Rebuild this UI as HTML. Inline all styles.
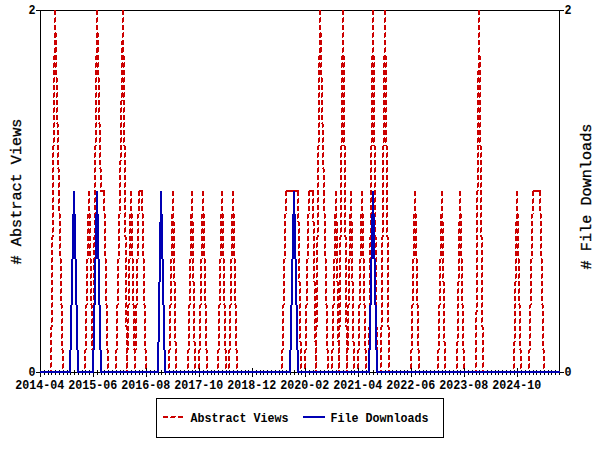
<!DOCTYPE html>
<html><head><meta charset="utf-8"><title>Abstract Views and File Downloads</title>
<style>
html,body{margin:0;padding:0;background:#fff;}
svg{display:block}
text{font-family:"Liberation Mono","DejaVu Sans Mono",monospace;fill:#000}
.s{font-size:12.5px;font-weight:bold}
.t{font-size:15.2px;stroke:#000;stroke-width:0.3}
</style></head><body>
<svg width="600" height="450" viewBox="0 0 600 450">
<rect x="0" y="0" width="600" height="450" fill="#fff"/>
<g shape-rendering="crispEdges" stroke="none">
<path fill="#000000" d="M374 10h10v1h-10zM480 10h84v1h-84zM56 10h40v1h-40zM98 10h24v1h-24zM124 10h195v1h-195zM386 10h92v1h-92zM344 10h28v1h-28zM321 10h21v1h-21zM36 10h18v1h-18zM559 11h1v360h-1zM40 11h1v360h-1zM146 368h1v3h-1zM252 368h1v3h-1zM358 368h1v3h-1zM464 368h1v3h-1zM199 368h1v3h-1zM305 368h1v3h-1zM517 368h1v3h-1zM411 368h1v3h-1zM430 370h1v1h-1zM540 370h1v1h-1zM173 370h1v1h-1zM366 370h1v1h-1zM426 370h1v1h-1zM491 370h1v1h-1zM275 370h1v1h-1zM59 370h1v1h-1zM169 370h1v1h-1zM55 370h1v1h-1zM404 370h1v1h-1zM514 370h1v1h-1zM551 370h1v1h-1zM400 370h1v1h-1zM184 370h1v1h-1zM396 370h1v1h-1zM180 370h1v1h-1zM423 370h1v1h-1zM282 370h1v1h-1zM548 370h1v1h-1zM525 370h1v1h-1zM309 370h1v1h-1zM89 370h1v1h-1zM521 370h1v1h-1zM154 370h1v1h-1zM214 370h1v1h-1zM457 370h1v1h-1zM453 370h1v1h-1zM495 370h1v1h-1zM279 370h1v1h-1zM63 370h1v1h-1zM555 370h1v1h-1zM123 370h1v1h-1zM188 370h1v1h-1zM468 370h1v1h-1zM533 370h1v1h-1zM248 370h1v1h-1zM529 370h1v1h-1zM313 370h1v1h-1zM460 370h1v1h-1zM286 370h1v1h-1zM442 370h1v1h-1zM226 370h1v1h-1zM336 370h1v1h-1zM195 370h1v1h-1zM438 370h1v1h-1zM222 370h1v1h-1zM498 370h1v1h-1zM324 370h1v1h-1zM218 370h1v1h-1zM434 370h1v1h-1zM67 370h1v1h-1zM44 370h1v1h-1zM320 370h1v1h-1zM104 370h1v1h-1zM407 370h1v1h-1zM472 370h1v1h-1zM449 370h1v1h-1zM343 370h1v1h-1zM192 370h1v1h-1zM445 370h1v1h-1zM229 370h1v1h-1zM354 370h1v1h-1zM203 370h1v1h-1zM479 370h1v1h-1zM263 370h1v1h-1zM506 370h1v1h-1zM48 370h1v1h-1zM139 370h1v1h-1zM502 370h1v1h-1zM351 370h1v1h-1zM135 370h1v1h-1zM328 370h1v1h-1zM237 370h1v1h-1zM131 370h1v1h-1zM108 370h1v1h-1zM233 370h1v1h-1zM260 370h1v1h-1zM536 370h1v1h-1zM362 370h1v1h-1zM256 370h1v1h-1zM211 370h1v1h-1zM82 370h1v1h-1zM142 370h1v1h-1zM207 370h1v1h-1zM385 370h1v1h-1zM510 370h1v1h-1zM271 370h1v1h-1zM487 370h1v1h-1zM120 370h1v1h-1zM267 370h1v1h-1zM332 370h1v1h-1zM116 370h1v1h-1zM176 370h1v1h-1zM419 370h1v1h-1zM112 370h1v1h-1zM245 370h1v1h-1zM415 370h1v1h-1zM392 370h1v1h-1zM241 370h1v1h-1zM301 370h1v1h-1zM85 370h1v1h-1zM150 370h1v1h-1zM544 370h1v1h-1zM161 370h1v2h-1zM97 370h1v2h-1zM373 370h1v2h-1zM74 370h1v2h-1zM294 370h1v2h-1zM291 372h6v1h-6zM36 372h4v1h-4zM94 372h6v1h-6zM159 372h5v1h-5zM71 372h6v1h-6zM560 372h4v1h-4zM370 372h6v1h-6zM430 373h1v2h-1zM540 373h1v2h-1zM389 373h1v2h-1zM173 373h1v2h-1zM366 373h1v2h-1zM426 373h1v2h-1zM491 373h1v2h-1zM275 373h1v2h-1zM59 373h1v2h-1zM169 373h1v2h-1zM55 373h1v2h-1zM404 373h1v2h-1zM298 373h1v2h-1zM514 373h1v2h-1zM551 373h1v2h-1zM400 373h1v2h-1zM184 373h1v2h-1zM396 373h1v2h-1zM180 373h1v2h-1zM423 373h1v2h-1zM282 373h1v2h-1zM548 373h1v2h-1zM525 373h1v2h-1zM309 373h1v2h-1zM158 373h1v2h-1zM521 373h1v2h-1zM89 373h1v2h-1zM154 373h1v2h-1zM214 373h1v2h-1zM457 373h1v2h-1zM559 373h1v2h-1zM453 373h1v2h-1zM495 373h1v2h-1zM279 373h1v2h-1zM63 373h1v2h-1zM555 373h1v2h-1zM339 373h1v2h-1zM123 373h1v2h-1zM316 373h1v2h-1zM188 373h1v2h-1zM165 373h1v2h-1zM468 373h1v2h-1zM161 373h1v2h-1zM533 373h1v2h-1zM248 373h1v2h-1zM529 373h1v2h-1zM313 373h1v2h-1zM97 373h1v2h-1zM460 373h1v2h-1zM286 373h1v2h-1zM70 373h1v2h-1zM442 373h1v2h-1zM226 373h1v2h-1zM336 373h1v2h-1zM195 373h1v2h-1zM373 373h1v2h-1zM438 373h1v2h-1zM222 373h1v2h-1zM498 373h1v2h-1zM369 373h1v2h-1zM324 373h1v2h-1zM218 373h1v2h-1zM434 373h1v2h-1zM67 373h1v2h-1zM44 373h1v2h-1zM320 373h1v2h-1zM104 373h1v2h-1zM347 373h1v2h-1zM407 373h1v2h-1zM472 373h1v2h-1zM449 373h1v2h-1zM343 373h1v2h-1zM127 373h1v2h-1zM192 373h1v2h-1zM445 373h1v2h-1zM229 373h1v2h-1zM78 373h1v2h-1zM381 373h1v2h-1zM74 373h1v2h-1zM101 373h1v2h-1zM377 373h1v2h-1zM354 373h1v2h-1zM203 373h1v2h-1zM479 373h1v2h-1zM263 373h1v2h-1zM506 373h1v2h-1zM290 373h1v2h-1zM48 373h1v2h-1zM139 373h1v2h-1zM502 373h1v2h-1zM351 373h1v2h-1zM135 373h1v2h-1zM328 373h1v2h-1zM237 373h1v2h-1zM131 373h1v2h-1zM108 373h1v2h-1zM233 373h1v2h-1zM476 373h1v2h-1zM260 373h1v2h-1zM536 373h1v2h-1zM362 373h1v2h-1zM256 373h1v2h-1zM211 373h1v2h-1zM82 373h1v2h-1zM142 373h1v2h-1zM207 373h1v2h-1zM385 373h1v2h-1zM510 373h1v2h-1zM294 373h1v2h-1zM487 373h1v2h-1zM271 373h1v2h-1zM120 373h1v2h-1zM483 373h1v2h-1zM267 373h1v2h-1zM51 373h1v2h-1zM332 373h1v2h-1zM116 373h1v2h-1zM176 373h1v2h-1zM419 373h1v2h-1zM112 373h1v2h-1zM245 373h1v2h-1zM415 373h1v2h-1zM392 373h1v2h-1zM241 373h1v2h-1zM301 373h1v2h-1zM85 373h1v2h-1zM150 373h1v2h-1zM544 373h1v2h-1zM305 373h1v4h-1zM40 373h1v4h-1zM464 373h1v4h-1zM93 373h1v4h-1zM252 373h1v4h-1zM199 373h1v4h-1zM411 373h1v4h-1zM146 373h1v4h-1zM358 373h1v4h-1zM517 373h1v4h-1zM156 398h288v1h-288zM443 399h1v38h-1zM156 399h1v38h-1zM156 437h288v1h-288z"/>
<path fill="#cc0000" d="M319 10h2v5h-2zM54 10h2v5h-2zM122 10h2v5h-2zM372 10h2v5h-2zM96 10h2v5h-2zM478 10h2v5h-2zM384 10h2v5h-2zM342 10h2v5h-2zM55 17h1v1h-1zM123 17h1v1h-1zM97 17h1v1h-1zM343 17h1v1h-1zM479 17h1v1h-1zM385 17h1v1h-1zM373 17h1v1h-1zM320 17h1v1h-1zM319 18h2v4h-2zM54 18h2v4h-2zM122 18h2v4h-2zM372 18h2v4h-2zM96 18h2v4h-2zM478 18h2v4h-2zM384 18h2v4h-2zM342 18h2v4h-2zM342 22h1v1h-1zM319 22h1v1h-1zM478 22h1v1h-1zM372 22h1v1h-1zM54 22h1v1h-1zM122 22h1v1h-1zM96 22h1v1h-1zM384 22h1v1h-1zM319 25h2v5h-2zM54 25h2v5h-2zM122 25h2v5h-2zM372 25h2v5h-2zM96 25h2v5h-2zM478 25h2v5h-2zM384 25h2v5h-2zM342 25h2v5h-2zM55 32h1v1h-1zM123 32h1v1h-1zM97 32h1v1h-1zM343 32h1v1h-1zM479 32h1v1h-1zM385 32h1v1h-1zM373 32h1v1h-1zM320 32h1v1h-1zM96 33h3v4h-3zM122 33h2v4h-2zM342 33h2v4h-2zM372 33h2v4h-2zM478 33h2v4h-2zM319 33h3v4h-3zM384 33h2v4h-2zM54 33h3v4h-3zM319 37h2v1h-2zM54 37h2v1h-2zM342 37h1v1h-1zM96 37h2v1h-2zM478 37h1v1h-1zM372 37h1v1h-1zM122 37h1v1h-1zM384 37h1v1h-1zM122 40h2v1h-2zM96 40h3v5h-3zM342 40h2v5h-2zM372 40h2v5h-2zM478 40h2v5h-2zM319 40h3v5h-3zM384 40h2v5h-2zM54 40h3v5h-3zM121 41h3v4h-3zM55 47h2v1h-2zM122 47h2v1h-2zM97 47h2v1h-2zM343 47h1v1h-1zM479 47h1v1h-1zM320 47h2v1h-2zM385 47h1v1h-1zM373 47h1v1h-1zM121 48h3v4h-3zM96 48h3v4h-3zM342 48h2v4h-2zM372 48h2v4h-2zM478 48h2v4h-2zM319 48h3v4h-3zM384 48h2v4h-2zM54 48h3v4h-3zM319 52h2v1h-2zM54 52h2v1h-2zM342 52h1v1h-1zM96 52h2v1h-2zM478 52h1v1h-1zM121 52h2v1h-2zM372 52h1v1h-1zM384 52h1v1h-1zM121 55h3v1h-3zM96 55h3v1h-3zM342 55h2v1h-2zM372 55h2v1h-2zM478 55h2v1h-2zM319 55h3v1h-3zM384 55h2v1h-2zM54 55h3v1h-3zM371 56h4v4h-4zM95 56h4v4h-4zM478 56h3v4h-3zM383 56h4v4h-4zM53 56h4v4h-4zM341 56h4v4h-4zM318 56h4v4h-4zM121 56h4v4h-4zM56 62h1v1h-1zM124 62h1v1h-1zM342 62h1v1h-1zM479 62h2v1h-2zM319 62h1v1h-1zM374 62h1v1h-1zM98 62h1v1h-1zM386 62h1v1h-1zM372 62h1v1h-1zM54 62h1v1h-1zM122 62h1v1h-1zM344 62h1v1h-1zM321 62h1v1h-1zM96 62h1v1h-1zM384 62h1v1h-1zM371 63h4v4h-4zM95 63h4v4h-4zM478 63h3v4h-3zM383 63h4v4h-4zM53 63h4v4h-4zM341 63h4v4h-4zM318 63h4v4h-4zM121 63h4v4h-4zM53 67h1v1h-1zM55 67h1v1h-1zM123 67h1v1h-1zM383 67h1v1h-1zM318 67h1v1h-1zM97 67h1v1h-1zM341 67h1v1h-1zM478 67h2v1h-2zM343 67h1v1h-1zM121 67h1v1h-1zM385 67h1v1h-1zM373 67h1v1h-1zM371 67h1v1h-1zM320 67h1v1h-1zM95 67h1v1h-1zM478 70h3v1h-3zM371 70h4v5h-4zM95 70h4v5h-4zM383 70h4v5h-4zM53 70h4v5h-4zM341 70h4v5h-4zM318 70h4v5h-4zM121 70h4v5h-4zM477 71h4v4h-4zM480 77h1v1h-1zM56 77h1v1h-1zM124 77h1v1h-1zM342 77h1v1h-1zM319 77h1v1h-1zM374 77h1v1h-1zM98 77h1v1h-1zM386 77h1v1h-1zM478 77h1v1h-1zM372 77h1v1h-1zM54 77h1v1h-1zM122 77h1v1h-1zM344 77h1v1h-1zM321 77h1v1h-1zM96 77h1v1h-1zM384 77h1v1h-1zM53 78h2v4h-2zM371 78h4v4h-4zM95 78h2v4h-2zM383 78h4v4h-4zM318 78h2v4h-2zM341 78h4v4h-4zM477 78h4v4h-4zM321 78h2v4h-2zM56 78h2v4h-2zM121 78h4v4h-4zM98 78h2v4h-2zM56 82h1v1h-1zM53 82h1v1h-1zM123 82h1v1h-1zM383 82h1v1h-1zM98 82h1v1h-1zM385 82h1v1h-1zM477 82h1v1h-1zM318 82h1v1h-1zM341 82h1v1h-1zM343 82h1v1h-1zM479 82h1v1h-1zM121 82h1v1h-1zM321 82h1v1h-1zM373 82h1v1h-1zM371 82h1v1h-1zM95 82h1v1h-1zM53 85h2v5h-2zM371 85h4v5h-4zM95 85h2v5h-2zM383 85h4v5h-4zM318 85h2v5h-2zM341 85h4v5h-4zM477 85h4v5h-4zM321 85h2v5h-2zM56 85h2v5h-2zM121 85h4v5h-4zM98 85h2v5h-2zM480 92h1v1h-1zM124 92h1v1h-1zM342 92h1v1h-1zM322 92h1v1h-1zM319 92h1v1h-1zM374 92h1v1h-1zM386 92h1v1h-1zM478 92h1v1h-1zM372 92h1v1h-1zM54 92h1v1h-1zM122 92h1v1h-1zM344 92h1v1h-1zM57 92h1v1h-1zM96 92h1v1h-1zM99 92h1v1h-1zM384 92h1v1h-1zM53 93h2v4h-2zM371 93h4v4h-4zM95 93h2v4h-2zM383 93h4v4h-4zM318 93h2v4h-2zM341 93h4v4h-4zM477 93h4v4h-4zM321 93h2v4h-2zM56 93h2v4h-2zM121 93h4v4h-4zM98 93h2v4h-2zM56 97h1v1h-1zM53 97h1v1h-1zM123 97h1v1h-1zM383 97h1v1h-1zM98 97h1v1h-1zM385 97h1v1h-1zM477 97h1v1h-1zM318 97h1v1h-1zM341 97h1v1h-1zM343 97h1v1h-1zM479 97h1v1h-1zM121 97h1v1h-1zM321 97h1v1h-1zM373 97h1v1h-1zM371 97h1v1h-1zM95 97h1v1h-1zM121 100h4v1h-4zM53 100h2v5h-2zM371 100h4v5h-4zM95 100h2v5h-2zM383 100h4v5h-4zM318 100h2v5h-2zM341 100h4v5h-4zM477 100h4v5h-4zM321 100h2v5h-2zM56 100h2v5h-2zM98 100h2v5h-2zM123 101h2v4h-2zM120 101h2v4h-2zM480 107h1v1h-1zM124 107h1v1h-1zM342 107h1v1h-1zM322 107h1v1h-1zM319 107h1v1h-1zM374 107h1v1h-1zM121 107h1v1h-1zM386 107h1v1h-1zM478 107h1v1h-1zM372 107h1v1h-1zM54 107h1v1h-1zM344 107h1v1h-1zM57 107h1v1h-1zM96 107h1v1h-1zM99 107h1v1h-1zM384 107h1v1h-1zM53 108h2v4h-2zM371 108h4v4h-4zM123 108h2v4h-2zM95 108h2v4h-2zM383 108h4v4h-4zM318 108h2v4h-2zM341 108h4v4h-4zM477 108h4v4h-4zM321 108h2v4h-2zM56 108h2v4h-2zM120 108h2v4h-2zM98 108h2v4h-2zM56 112h1v1h-1zM120 112h1v1h-1zM53 112h1v1h-1zM123 112h1v1h-1zM383 112h1v1h-1zM98 112h1v1h-1zM385 112h1v1h-1zM477 112h1v1h-1zM318 112h1v1h-1zM341 112h1v1h-1zM343 112h1v1h-1zM479 112h1v1h-1zM321 112h1v1h-1zM373 112h1v1h-1zM371 112h1v1h-1zM95 112h1v1h-1zM53 115h2v5h-2zM371 115h4v5h-4zM123 115h2v5h-2zM95 115h2v5h-2zM383 115h4v5h-4zM318 115h2v5h-2zM341 115h4v5h-4zM477 115h4v5h-4zM321 115h2v5h-2zM56 115h2v5h-2zM120 115h2v5h-2zM98 115h2v5h-2zM480 122h1v1h-1zM124 122h1v1h-1zM342 122h1v1h-1zM322 122h1v1h-1zM319 122h1v1h-1zM374 122h1v1h-1zM121 122h1v1h-1zM386 122h1v1h-1zM478 122h1v1h-1zM372 122h1v1h-1zM54 122h1v1h-1zM344 122h1v1h-1zM57 122h1v1h-1zM96 122h1v1h-1zM99 122h1v1h-1zM384 122h1v1h-1zM321 123h2v1h-2zM56 123h2v1h-2zM98 123h2v1h-2zM53 123h2v4h-2zM371 123h4v4h-4zM123 123h2v4h-2zM95 123h2v4h-2zM383 123h4v4h-4zM318 123h2v4h-2zM341 123h4v4h-4zM477 123h4v4h-4zM120 123h2v4h-2zM99 124h2v3h-2zM57 124h2v3h-2zM322 124h2v3h-2zM120 127h1v1h-1zM53 127h1v1h-1zM322 127h1v1h-1zM123 127h1v1h-1zM383 127h1v1h-1zM477 127h1v1h-1zM318 127h1v1h-1zM373 127h1v1h-1zM341 127h1v1h-1zM343 127h1v1h-1zM479 127h1v1h-1zM57 127h1v1h-1zM385 127h1v1h-1zM99 127h1v1h-1zM371 127h1v1h-1zM95 127h1v1h-1zM53 130h2v5h-2zM371 130h4v5h-4zM123 130h2v5h-2zM95 130h2v5h-2zM383 130h4v5h-4zM318 130h2v5h-2zM99 130h2v5h-2zM341 130h4v5h-4zM477 130h4v5h-4zM57 130h2v5h-2zM120 130h2v5h-2zM322 130h2v5h-2zM480 137h1v1h-1zM124 137h1v1h-1zM342 137h1v1h-1zM319 137h1v1h-1zM323 137h1v1h-1zM374 137h1v1h-1zM100 137h1v1h-1zM386 137h1v1h-1zM478 137h1v1h-1zM372 137h1v1h-1zM54 137h1v1h-1zM58 137h1v1h-1zM344 137h1v1h-1zM121 137h1v1h-1zM96 137h1v1h-1zM384 137h1v1h-1zM53 138h2v4h-2zM371 138h4v4h-4zM123 138h2v4h-2zM95 138h2v4h-2zM383 138h4v4h-4zM318 138h2v4h-2zM99 138h2v4h-2zM341 138h4v4h-4zM477 138h4v4h-4zM57 138h2v4h-2zM120 138h2v4h-2zM322 138h2v4h-2zM120 142h1v1h-1zM53 142h1v1h-1zM322 142h1v1h-1zM123 142h1v1h-1zM383 142h1v1h-1zM477 142h1v1h-1zM318 142h1v1h-1zM373 142h1v1h-1zM341 142h1v1h-1zM343 142h1v1h-1zM479 142h1v1h-1zM57 142h1v1h-1zM385 142h1v1h-1zM99 142h1v1h-1zM371 142h1v1h-1zM95 142h1v1h-1zM53 145h2v1h-2zM371 145h4v1h-4zM123 145h2v1h-2zM95 145h2v1h-2zM383 145h4v1h-4zM318 145h2v1h-2zM341 145h4v1h-4zM477 145h4v1h-4zM99 145h2v5h-2zM57 145h2v5h-2zM120 145h2v5h-2zM322 145h2v5h-2zM52 146h2v4h-2zM477 146h2v4h-2zM386 146h2v4h-2zM370 146h2v4h-2zM317 146h2v4h-2zM344 146h2v4h-2zM480 146h2v4h-2zM382 146h2v4h-2zM124 146h2v4h-2zM340 146h2v4h-2zM374 146h2v4h-2zM94 146h2v4h-2zM345 152h1v1h-1zM53 152h1v1h-1zM383 152h1v1h-1zM323 152h1v1h-1zM387 152h1v1h-1zM100 152h1v1h-1zM318 152h1v1h-1zM478 152h1v1h-1zM341 152h1v1h-1zM125 152h1v1h-1zM58 152h1v1h-1zM481 152h1v1h-1zM121 152h1v1h-1zM371 152h1v1h-1zM375 152h1v1h-1zM95 152h1v1h-1zM52 153h2v4h-2zM477 153h2v4h-2zM386 153h2v4h-2zM370 153h2v4h-2zM99 153h2v4h-2zM317 153h2v4h-2zM344 153h2v4h-2zM57 153h2v4h-2zM480 153h2v4h-2zM382 153h2v4h-2zM120 153h2v4h-2zM124 153h2v4h-2zM322 153h2v4h-2zM340 153h2v4h-2zM374 153h2v4h-2zM94 153h2v4h-2zM480 157h1v1h-1zM382 157h1v1h-1zM317 157h1v1h-1zM120 157h1v1h-1zM124 157h1v1h-1zM340 157h1v1h-1zM322 157h1v1h-1zM374 157h1v1h-1zM94 157h1v1h-1zM477 157h1v1h-1zM386 157h1v1h-1zM370 157h1v1h-1zM52 157h1v1h-1zM344 157h1v1h-1zM57 157h1v1h-1zM99 157h1v1h-1zM120 160h2v1h-2zM52 160h2v5h-2zM477 160h2v5h-2zM386 160h2v5h-2zM370 160h2v5h-2zM99 160h2v5h-2zM317 160h2v5h-2zM344 160h2v5h-2zM57 160h2v5h-2zM480 160h2v5h-2zM382 160h2v5h-2zM124 160h2v5h-2zM322 160h2v5h-2zM340 160h2v5h-2zM374 160h2v5h-2zM94 160h2v5h-2zM119 161h2v4h-2zM345 167h1v1h-1zM120 167h1v1h-1zM53 167h1v1h-1zM383 167h1v1h-1zM323 167h1v1h-1zM387 167h1v1h-1zM100 167h1v1h-1zM318 167h1v1h-1zM478 167h1v1h-1zM341 167h1v1h-1zM125 167h1v1h-1zM58 167h1v1h-1zM481 167h1v1h-1zM371 167h1v1h-1zM375 167h1v1h-1zM95 167h1v1h-1zM99 168h2v1h-2zM57 168h2v1h-2zM322 168h2v1h-2zM52 168h2v4h-2zM477 168h2v4h-2zM386 168h2v4h-2zM370 168h2v4h-2zM317 168h2v4h-2zM344 168h2v4h-2zM119 168h2v4h-2zM480 168h2v4h-2zM382 168h2v4h-2zM340 168h2v4h-2zM124 168h2v4h-2zM374 168h2v4h-2zM94 168h2v4h-2zM323 169h2v3h-2zM100 169h2v3h-2zM58 169h2v3h-2zM480 172h1v1h-1zM340 172h1v1h-1zM124 172h1v1h-1zM374 172h1v1h-1zM94 172h1v1h-1zM323 172h1v1h-1zM477 172h1v1h-1zM100 172h1v1h-1zM386 172h1v1h-1zM370 172h1v1h-1zM52 172h1v1h-1zM58 172h1v1h-1zM344 172h1v1h-1zM119 172h1v1h-1zM317 172h1v1h-1zM382 172h1v1h-1zM323 175h2v5h-2zM52 175h2v5h-2zM477 175h2v5h-2zM100 175h2v5h-2zM386 175h2v5h-2zM370 175h2v5h-2zM317 175h2v5h-2zM58 175h2v5h-2zM344 175h2v5h-2zM119 175h2v5h-2zM480 175h2v5h-2zM382 175h2v5h-2zM340 175h2v5h-2zM124 175h2v5h-2zM374 175h2v5h-2zM94 175h2v5h-2zM59 182h1v1h-1zM345 182h1v1h-1zM120 182h1v1h-1zM53 182h1v1h-1zM383 182h1v1h-1zM387 182h1v1h-1zM318 182h1v1h-1zM478 182h1v1h-1zM341 182h1v1h-1zM125 182h1v1h-1zM481 182h1v1h-1zM324 182h1v1h-1zM101 182h1v1h-1zM371 182h1v1h-1zM375 182h1v1h-1zM95 182h1v1h-1zM323 183h2v4h-2zM52 183h2v4h-2zM477 183h2v4h-2zM100 183h2v4h-2zM386 183h2v4h-2zM370 183h2v4h-2zM317 183h2v4h-2zM58 183h2v4h-2zM344 183h2v4h-2zM119 183h2v4h-2zM480 183h2v4h-2zM382 183h2v4h-2zM340 183h2v4h-2zM124 183h2v4h-2zM374 183h2v4h-2zM94 183h2v4h-2zM480 187h1v1h-1zM340 187h1v1h-1zM124 187h1v1h-1zM374 187h1v1h-1zM94 187h1v1h-1zM323 187h1v1h-1zM477 187h1v1h-1zM100 187h1v1h-1zM386 187h1v1h-1zM370 187h1v1h-1zM52 187h1v1h-1zM58 187h1v1h-1zM344 187h1v1h-1zM119 187h1v1h-1zM317 187h1v1h-1zM382 187h1v1h-1zM533 190h8v1h-8zM309 190h5v1h-5zM139 190h4v1h-4zM286 190h13v1h-13zM477 190h2v1h-2zM100 190h5v2h-5zM138 191h5v1h-5zM295 191h4v1h-4zM532 191h9v1h-9zM308 191h6v1h-6zM285 191h8v1h-8zM386 190h2v5h-2zM317 190h2v5h-2zM382 190h2v5h-2zM52 190h2v5h-2zM374 190h2v5h-2zM94 190h2v5h-2zM370 190h2v5h-2zM480 190h2v5h-2zM344 190h2v5h-2zM340 190h2v5h-2zM124 190h2v5h-2zM476 191h2v4h-2zM323 190h2v6h-2zM58 190h2v6h-2zM119 190h2v6h-2zM441 191h2v5h-2zM459 191h2v5h-2zM221 191h2v5h-2zM88 191h2v5h-2zM350 191h2v5h-2zM414 191h2v5h-2zM130 191h2v5h-2zM516 191h2v5h-2zM361 191h2v5h-2zM232 191h2v5h-2zM172 191h2v5h-2zM191 191h2v5h-2zM335 191h2v5h-2zM202 191h2v5h-2zM312 192h2v4h-2zM308 192h2v4h-2zM138 192h2v4h-2zM103 192h2v4h-2zM539 192h2v4h-2zM141 192h2v4h-2zM297 192h2v4h-2zM532 192h2v4h-2zM285 192h2v4h-2zM477 197h1v1h-1zM481 197h1v1h-1zM371 197h1v1h-1zM345 197h1v1h-1zM387 197h1v1h-1zM318 197h1v1h-1zM341 197h1v1h-1zM125 197h1v1h-1zM53 197h1v1h-1zM383 197h1v1h-1zM375 197h1v1h-1zM95 197h1v1h-1zM233 198h1v1h-1zM104 198h1v1h-1zM192 198h1v1h-1zM298 198h1v1h-1zM362 198h1v1h-1zM59 198h1v1h-1zM142 198h1v1h-1zM533 198h1v1h-1zM324 198h1v1h-1zM336 198h1v1h-1zM120 198h1v1h-1zM203 198h1v1h-1zM313 198h1v1h-1zM460 198h1v1h-1zM89 198h1v1h-1zM139 198h1v1h-1zM309 198h1v1h-1zM286 198h1v1h-1zM415 198h1v1h-1zM442 198h1v1h-1zM131 198h1v1h-1zM222 198h1v1h-1zM351 198h1v1h-1zM540 198h1v1h-1zM517 198h1v1h-1zM173 198h1v1h-1zM386 198h2v4h-2zM317 198h2v4h-2zM382 198h2v4h-2zM52 198h2v4h-2zM94 198h2v4h-2zM374 198h2v4h-2zM370 198h2v4h-2zM480 198h2v4h-2zM476 198h2v4h-2zM344 198h2v4h-2zM340 198h2v4h-2zM124 198h2v4h-2zM312 199h2v4h-2zM441 199h2v4h-2zM459 199h2v4h-2zM308 199h2v4h-2zM138 199h2v4h-2zM221 199h2v4h-2zM88 199h2v4h-2zM323 199h2v4h-2zM350 199h2v4h-2zM414 199h2v4h-2zM103 199h2v4h-2zM130 199h2v4h-2zM539 199h2v4h-2zM516 199h2v4h-2zM361 199h2v4h-2zM232 199h2v4h-2zM172 199h2v4h-2zM58 199h2v4h-2zM141 199h2v4h-2zM191 199h2v4h-2zM297 199h2v4h-2zM335 199h2v4h-2zM119 199h2v4h-2zM202 199h2v4h-2zM532 199h2v4h-2zM285 199h2v4h-2zM480 202h1v1h-1zM476 202h1v1h-1zM344 202h1v1h-1zM340 202h1v1h-1zM124 202h1v1h-1zM386 202h1v1h-1zM317 202h1v1h-1zM382 202h1v1h-1zM52 202h1v1h-1zM374 202h1v1h-1zM94 202h1v1h-1zM370 202h1v1h-1zM191 203h1v1h-1zM297 203h1v1h-1zM335 203h1v1h-1zM119 203h1v1h-1zM532 203h1v1h-1zM202 203h1v1h-1zM285 203h1v1h-1zM312 203h1v1h-1zM441 203h1v1h-1zM459 203h1v1h-1zM138 203h1v1h-1zM308 203h1v1h-1zM221 203h1v1h-1zM88 203h1v1h-1zM323 203h1v1h-1zM350 203h1v1h-1zM414 203h1v1h-1zM103 203h1v1h-1zM539 203h1v1h-1zM516 203h1v1h-1zM130 203h1v1h-1zM232 203h1v1h-1zM361 203h1v1h-1zM58 203h1v1h-1zM172 203h1v1h-1zM141 203h1v1h-1zM386 205h2v5h-2zM317 205h2v5h-2zM382 205h2v5h-2zM52 205h2v5h-2zM374 205h2v5h-2zM94 205h2v5h-2zM370 205h2v5h-2zM480 205h2v5h-2zM476 205h2v5h-2zM344 205h2v5h-2zM340 205h2v5h-2zM124 205h2v5h-2zM312 206h2v5h-2zM441 206h2v5h-2zM459 206h2v5h-2zM308 206h2v5h-2zM138 206h2v5h-2zM221 206h2v5h-2zM88 206h2v5h-2zM323 206h2v5h-2zM350 206h2v5h-2zM414 206h2v5h-2zM103 206h2v5h-2zM130 206h2v5h-2zM539 206h2v5h-2zM516 206h2v5h-2zM361 206h2v5h-2zM232 206h2v5h-2zM172 206h2v5h-2zM58 206h2v5h-2zM141 206h2v5h-2zM191 206h2v5h-2zM297 206h2v5h-2zM335 206h2v5h-2zM119 206h2v5h-2zM202 206h2v5h-2zM532 206h2v5h-2zM285 206h2v5h-2zM477 212h1v1h-1zM481 212h1v1h-1zM371 212h1v1h-1zM345 212h1v1h-1zM387 212h1v1h-1zM318 212h1v1h-1zM341 212h1v1h-1zM125 212h1v1h-1zM53 212h1v1h-1zM383 212h1v1h-1zM375 212h1v1h-1zM95 212h1v1h-1zM233 213h1v1h-1zM104 213h1v1h-1zM192 213h1v1h-1zM298 213h1v1h-1zM362 213h1v1h-1zM59 213h1v1h-1zM142 213h1v1h-1zM533 213h1v1h-1zM324 213h1v1h-1zM94 213h2v1h-2zM374 213h2v1h-2zM336 213h1v1h-1zM120 213h1v1h-1zM203 213h1v1h-1zM313 213h1v1h-1zM370 213h2v1h-2zM460 213h1v1h-1zM89 213h1v1h-1zM139 213h1v1h-1zM309 213h1v1h-1zM286 213h1v1h-1zM415 213h1v1h-1zM442 213h1v1h-1zM131 213h1v1h-1zM222 213h1v1h-1zM351 213h1v1h-1zM540 213h1v1h-1zM517 213h1v1h-1zM173 213h1v1h-1zM386 213h2v4h-2zM317 213h2v4h-2zM382 213h2v4h-2zM52 213h2v4h-2zM480 213h2v4h-2zM476 213h2v4h-2zM344 213h2v4h-2zM340 213h2v4h-2zM124 213h2v4h-2zM375 214h1v3h-1zM190 214h3v4h-3zM312 214h2v4h-2zM516 214h3v4h-3zM201 214h4v4h-4zM220 214h4v4h-4zM413 214h4v4h-4zM87 214h4v4h-4zM129 214h4v4h-4zM334 214h3v4h-3zM231 214h4v4h-4zM440 214h3v4h-3zM540 214h2v4h-2zM324 214h2v4h-2zM349 214h3v4h-3zM118 214h2v4h-2zM104 214h2v4h-2zM531 214h2v4h-2zM297 214h2v4h-2zM459 214h3v4h-3zM94 214h1v4h-1zM360 214h4v4h-4zM137 214h2v4h-2zM370 214h1v4h-1zM59 214h2v4h-2zM171 214h3v4h-3zM307 214h2v4h-2zM284 214h2v4h-2zM142 214h2v4h-2zM480 217h1v1h-1zM476 217h1v1h-1zM344 217h1v1h-1zM340 217h1v1h-1zM124 217h1v1h-1zM386 217h1v1h-1zM317 217h1v1h-1zM382 217h1v1h-1zM52 217h1v1h-1zM233 218h1v1h-1zM297 218h1v1h-1zM104 218h1v1h-1zM459 218h2v1h-2zM531 218h1v1h-1zM201 218h1v1h-1zM137 218h1v1h-1zM307 218h1v1h-1zM362 218h1v1h-1zM220 218h1v1h-1zM59 218h1v1h-1zM284 218h1v1h-1zM171 218h2v1h-2zM142 218h1v1h-1zM413 218h1v1h-1zM190 218h2v1h-2zM312 218h1v1h-1zM87 218h1v1h-1zM129 218h1v1h-1zM516 218h2v1h-2zM231 218h1v1h-1zM203 218h1v1h-1zM89 218h1v1h-1zM415 218h1v1h-1zM131 218h1v1h-1zM222 218h1v1h-1zM334 218h2v1h-2zM440 218h2v1h-2zM360 218h1v1h-1zM540 218h1v1h-1zM324 218h1v1h-1zM118 218h1v1h-1zM349 218h2v1h-2zM190 221h3v1h-3zM312 221h2v1h-2zM516 221h3v1h-3zM334 221h3v1h-3zM440 221h3v1h-3zM349 221h3v1h-3zM297 221h2v1h-2zM459 221h3v1h-3zM171 221h3v1h-3zM386 220h2v5h-2zM317 220h2v5h-2zM382 220h2v5h-2zM52 220h2v5h-2zM480 220h2v5h-2zM476 220h2v5h-2zM94 220h1v5h-1zM344 220h2v5h-2zM370 220h1v5h-1zM340 220h2v5h-2zM124 220h2v5h-2zM375 220h1v5h-1zM201 221h4v5h-4zM220 221h4v5h-4zM413 221h4v5h-4zM87 221h4v5h-4zM129 221h4v5h-4zM231 221h4v5h-4zM540 221h2v5h-2zM324 221h2v5h-2zM118 221h2v5h-2zM104 221h2v5h-2zM531 221h2v5h-2zM360 221h4v5h-4zM137 221h2v5h-2zM59 221h2v5h-2zM307 221h2v5h-2zM284 221h2v5h-2zM142 221h2v5h-2zM458 222h4v4h-4zM334 222h4v4h-4zM440 222h4v4h-4zM313 222h2v4h-2zM349 222h4v4h-4zM515 222h4v4h-4zM171 222h4v4h-4zM190 222h4v4h-4zM298 222h2v4h-2zM345 227h1v1h-1zM53 227h1v1h-1zM383 227h1v1h-1zM387 227h1v1h-1zM318 227h1v1h-1zM477 227h1v1h-1zM125 227h1v1h-1zM341 227h1v1h-1zM481 227h1v1h-1zM352 228h1v1h-1zM191 228h1v1h-1zM416 228h1v1h-1zM325 228h1v1h-1zM541 228h1v1h-1zM132 228h1v1h-1zM335 228h1v1h-1zM174 228h1v1h-1zM119 228h1v1h-1zM105 228h1v1h-1zM532 228h1v1h-1zM518 228h1v1h-1zM202 228h1v1h-1zM60 228h1v1h-1zM285 228h1v1h-1zM441 228h1v1h-1zM143 228h1v1h-1zM234 228h1v1h-1zM459 228h1v1h-1zM299 228h1v1h-1zM138 228h1v1h-1zM193 228h1v1h-1zM363 228h1v1h-1zM308 228h1v1h-1zM221 228h1v1h-1zM88 228h1v1h-1zM350 228h1v1h-1zM414 228h1v1h-1zM337 228h1v1h-1zM314 228h1v1h-1zM461 228h1v1h-1zM516 228h1v1h-1zM130 228h1v1h-1zM204 228h1v1h-1zM223 228h1v1h-1zM232 228h1v1h-1zM361 228h1v1h-1zM90 228h1v1h-1zM443 228h1v1h-1zM172 228h1v1h-1zM375 227h1v5h-1zM386 228h2v4h-2zM317 228h2v4h-2zM382 228h2v4h-2zM52 228h2v4h-2zM480 228h2v4h-2zM476 228h2v4h-2zM344 228h2v4h-2zM340 228h2v4h-2zM124 228h2v4h-2zM94 228h1v5h-1zM370 228h1v5h-1zM458 229h4v4h-4zM334 229h4v4h-4zM440 229h4v4h-4zM313 229h2v4h-2zM201 229h4v4h-4zM220 229h4v4h-4zM349 229h4v4h-4zM413 229h4v4h-4zM87 229h4v4h-4zM129 229h4v4h-4zM515 229h4v4h-4zM231 229h4v4h-4zM540 229h2v4h-2zM324 229h2v4h-2zM171 229h4v4h-4zM190 229h4v4h-4zM118 229h2v4h-2zM104 229h2v4h-2zM531 229h2v4h-2zM360 229h4v4h-4zM298 229h2v4h-2zM137 229h2v4h-2zM59 229h2v4h-2zM307 229h2v4h-2zM284 229h2v4h-2zM142 229h2v4h-2zM480 232h1v1h-1zM476 232h1v1h-1zM344 232h1v1h-1zM340 232h1v1h-1zM124 232h1v1h-1zM386 232h1v1h-1zM317 232h1v1h-1zM382 232h1v1h-1zM52 232h1v1h-1zM233 233h1v1h-1zM104 233h1v1h-1zM458 233h1v1h-1zM531 233h1v1h-1zM440 233h1v1h-1zM334 233h1v1h-1zM192 233h1v1h-1zM201 233h1v1h-1zM137 233h1v1h-1zM298 233h1v1h-1zM307 233h1v1h-1zM362 233h1v1h-1zM220 233h1v1h-1zM59 233h1v1h-1zM284 233h1v1h-1zM349 233h1v1h-1zM142 233h1v1h-1zM413 233h1v1h-1zM87 233h1v1h-1zM515 233h1v1h-1zM129 233h1v1h-1zM231 233h1v1h-1zM336 233h1v1h-1zM203 233h1v1h-1zM313 233h1v1h-1zM460 233h1v1h-1zM89 233h1v1h-1zM171 233h1v1h-1zM415 233h1v1h-1zM190 233h1v1h-1zM442 233h1v1h-1zM131 233h1v1h-1zM222 233h1v1h-1zM351 233h1v1h-1zM360 233h1v1h-1zM118 233h1v1h-1zM540 233h1v1h-1zM324 233h1v1h-1zM517 233h1v1h-1zM173 233h1v1h-1zM386 235h2v2h-2zM317 235h2v2h-2zM382 235h2v2h-2zM52 235h2v2h-2zM480 235h2v2h-2zM94 235h1v2h-1zM344 235h2v2h-2zM370 235h1v2h-1zM340 235h2v2h-2zM124 235h2v2h-2zM375 235h1v2h-1zM476 235h2v5h-2zM51 237h2v3h-2zM93 237h2v3h-2zM345 237h2v3h-2zM387 237h2v3h-2zM125 237h2v3h-2zM369 237h2v3h-2zM375 237h2v3h-2zM316 237h2v3h-2zM481 237h2v3h-2zM339 237h2v3h-2zM381 237h2v3h-2zM458 236h4v5h-4zM334 236h4v5h-4zM440 236h4v5h-4zM313 236h2v5h-2zM201 236h4v5h-4zM220 236h4v5h-4zM349 236h4v5h-4zM413 236h4v5h-4zM87 236h4v5h-4zM129 236h4v5h-4zM515 236h4v5h-4zM231 236h4v5h-4zM540 236h2v5h-2zM324 236h2v5h-2zM171 236h4v5h-4zM190 236h4v5h-4zM118 236h2v5h-2zM104 236h2v5h-2zM531 236h2v5h-2zM360 236h4v5h-4zM298 236h2v5h-2zM137 236h2v5h-2zM59 236h2v5h-2zM307 236h2v5h-2zM284 236h2v5h-2zM142 236h2v5h-2zM477 242h1v1h-1zM482 242h1v1h-1zM340 242h1v1h-1zM376 242h1v1h-1zM317 242h1v1h-1zM382 242h1v1h-1zM52 242h1v1h-1zM346 242h1v1h-1zM126 242h1v1h-1zM94 242h1v1h-1zM370 242h1v1h-1zM388 242h1v1h-1zM352 243h1v1h-1zM191 243h1v1h-1zM416 243h1v1h-1zM541 243h1v1h-1zM325 243h1v1h-1zM132 243h1v1h-1zM174 243h1v1h-1zM119 243h1v1h-1zM335 243h1v1h-1zM105 243h1v1h-1zM532 243h1v1h-1zM518 243h1v1h-1zM202 243h1v1h-1zM60 243h1v1h-1zM285 243h1v1h-1zM441 243h1v1h-1zM143 243h1v1h-1zM234 243h1v1h-1zM459 243h1v1h-1zM299 243h1v1h-1zM138 243h1v1h-1zM193 243h1v1h-1zM363 243h1v1h-1zM308 243h1v1h-1zM221 243h1v1h-1zM88 243h1v1h-1zM350 243h1v1h-1zM414 243h1v1h-1zM337 243h1v1h-1zM314 243h1v1h-1zM461 243h1v1h-1zM516 243h1v1h-1zM130 243h1v1h-1zM204 243h1v1h-1zM223 243h1v1h-1zM232 243h1v1h-1zM361 243h1v1h-1zM90 243h1v1h-1zM443 243h1v1h-1zM172 243h1v1h-1zM51 243h2v4h-2zM93 243h2v4h-2zM345 243h2v4h-2zM387 243h2v4h-2zM125 243h2v4h-2zM369 243h2v4h-2zM375 243h2v4h-2zM476 243h2v4h-2zM316 243h2v4h-2zM481 243h2v4h-2zM339 243h2v4h-2zM381 243h2v4h-2zM458 244h4v4h-4zM334 244h4v4h-4zM440 244h4v4h-4zM313 244h2v4h-2zM201 244h4v4h-4zM220 244h4v4h-4zM349 244h4v4h-4zM413 244h4v4h-4zM87 244h4v4h-4zM129 244h4v4h-4zM515 244h4v4h-4zM231 244h4v4h-4zM540 244h2v4h-2zM324 244h2v4h-2zM171 244h4v4h-4zM190 244h4v4h-4zM118 244h2v4h-2zM104 244h2v4h-2zM531 244h2v4h-2zM360 244h4v4h-4zM298 244h2v4h-2zM137 244h2v4h-2zM59 244h2v4h-2zM307 244h2v4h-2zM284 244h2v4h-2zM142 244h2v4h-2zM476 247h1v1h-1zM375 247h1v1h-1zM316 247h1v1h-1zM481 247h1v1h-1zM381 247h1v1h-1zM339 247h1v1h-1zM51 247h1v1h-1zM93 247h1v1h-1zM345 247h1v1h-1zM387 247h1v1h-1zM125 247h1v1h-1zM369 247h1v1h-1zM233 248h1v1h-1zM104 248h1v1h-1zM458 248h1v1h-1zM531 248h1v1h-1zM440 248h1v1h-1zM334 248h1v1h-1zM192 248h1v1h-1zM201 248h1v1h-1zM137 248h1v1h-1zM298 248h1v1h-1zM307 248h1v1h-1zM362 248h1v1h-1zM220 248h1v1h-1zM59 248h1v1h-1zM284 248h1v1h-1zM349 248h1v1h-1zM142 248h1v1h-1zM413 248h1v1h-1zM87 248h1v1h-1zM515 248h1v1h-1zM129 248h1v1h-1zM231 248h1v1h-1zM336 248h1v1h-1zM203 248h1v1h-1zM313 248h1v1h-1zM460 248h1v1h-1zM89 248h1v1h-1zM171 248h1v1h-1zM415 248h1v1h-1zM190 248h1v1h-1zM442 248h1v1h-1zM131 248h1v1h-1zM222 248h1v1h-1zM351 248h1v1h-1zM360 248h1v1h-1zM118 248h1v1h-1zM540 248h1v1h-1zM324 248h1v1h-1zM517 248h1v1h-1zM173 248h1v1h-1zM51 250h2v5h-2zM93 250h2v5h-2zM345 250h2v5h-2zM387 250h2v5h-2zM125 250h2v5h-2zM369 250h2v5h-2zM375 250h2v5h-2zM476 250h2v5h-2zM316 250h2v5h-2zM481 250h2v5h-2zM339 250h2v5h-2zM381 250h2v5h-2zM458 251h4v5h-4zM334 251h4v5h-4zM440 251h4v5h-4zM313 251h2v5h-2zM201 251h4v5h-4zM220 251h4v5h-4zM349 251h4v5h-4zM413 251h4v5h-4zM87 251h4v5h-4zM129 251h4v5h-4zM515 251h4v5h-4zM231 251h4v5h-4zM540 251h2v5h-2zM324 251h2v5h-2zM171 251h4v5h-4zM190 251h4v5h-4zM118 251h2v5h-2zM104 251h2v5h-2zM531 251h2v5h-2zM360 251h4v5h-4zM298 251h2v5h-2zM137 251h2v5h-2zM59 251h2v5h-2zM307 251h2v5h-2zM284 251h2v5h-2zM142 251h2v5h-2zM477 257h1v1h-1zM482 257h1v1h-1zM340 257h1v1h-1zM376 257h1v1h-1zM317 257h1v1h-1zM382 257h1v1h-1zM52 257h1v1h-1zM346 257h1v1h-1zM126 257h1v1h-1zM94 257h1v1h-1zM370 257h1v1h-1zM388 257h1v1h-1zM352 258h1v1h-1zM191 258h1v1h-1zM416 258h1v1h-1zM541 258h1v1h-1zM325 258h1v1h-1zM132 258h1v1h-1zM93 258h2v1h-2zM174 258h1v1h-1zM119 258h1v1h-1zM335 258h1v1h-1zM105 258h1v1h-1zM532 258h1v1h-1zM518 258h1v1h-1zM202 258h1v1h-1zM60 258h1v1h-1zM285 258h1v1h-1zM369 258h2v1h-2zM441 258h1v1h-1zM143 258h1v1h-1zM234 258h1v1h-1zM459 258h1v1h-1zM299 258h1v1h-1zM138 258h1v1h-1zM193 258h1v1h-1zM363 258h1v1h-1zM308 258h1v1h-1zM221 258h1v1h-1zM88 258h1v1h-1zM350 258h1v1h-1zM414 258h1v1h-1zM375 258h2v1h-2zM337 258h1v1h-1zM314 258h1v1h-1zM461 258h1v1h-1zM516 258h1v1h-1zM130 258h1v1h-1zM204 258h1v1h-1zM223 258h1v1h-1zM232 258h1v1h-1zM361 258h1v1h-1zM90 258h1v1h-1zM443 258h1v1h-1zM172 258h1v1h-1zM51 258h2v4h-2zM345 258h2v4h-2zM387 258h2v4h-2zM125 258h2v4h-2zM476 258h2v4h-2zM316 258h2v4h-2zM481 258h2v4h-2zM339 258h2v4h-2zM381 258h2v4h-2zM376 259h1v3h-1zM143 259h2v4h-2zM170 259h2v4h-2zM234 259h2v4h-2zM515 259h2v4h-2zM363 259h2v4h-2zM230 259h2v4h-2zM189 259h2v4h-2zM359 259h2v4h-2zM336 259h2v4h-2zM518 259h2v4h-2zM313 259h2v4h-2zM442 259h2v4h-2zM204 259h2v4h-2zM461 259h2v4h-2zM333 259h2v4h-2zM117 259h2v4h-2zM93 259h1v4h-1zM223 259h2v4h-2zM351 259h2v4h-2zM136 259h2v4h-2zM200 259h2v4h-2zM530 259h2v4h-2zM306 259h2v4h-2zM90 259h2v4h-2zM219 259h2v4h-2zM283 259h2v4h-2zM439 259h2v4h-2zM416 259h2v4h-2zM173 259h2v4h-2zM86 259h2v4h-2zM458 259h2v4h-2zM369 259h1v4h-1zM348 259h2v4h-2zM132 259h2v4h-2zM412 259h2v4h-2zM325 259h2v4h-2zM541 259h2v4h-2zM298 259h2v4h-2zM128 259h2v4h-2zM192 259h2v4h-2zM105 259h2v4h-2zM60 259h2v4h-2zM476 262h1v1h-1zM316 262h1v1h-1zM481 262h1v1h-1zM381 262h1v1h-1zM339 262h1v1h-1zM51 262h1v1h-1zM345 262h1v1h-1zM387 262h1v1h-1zM125 262h1v1h-1zM416 263h1v1h-1zM412 263h1v1h-1zM458 263h1v1h-1zM541 263h1v1h-1zM325 263h1v1h-1zM348 263h1v1h-1zM132 263h1v1h-1zM128 263h1v1h-1zM192 263h1v1h-1zM105 263h1v1h-1zM298 263h1v1h-1zM518 263h1v1h-1zM60 263h1v1h-1zM143 263h1v1h-1zM170 263h1v1h-1zM234 263h1v1h-1zM363 263h1v1h-1zM515 263h1v1h-1zM189 263h1v1h-1zM230 263h1v1h-1zM359 263h1v1h-1zM336 263h1v1h-1zM313 263h1v1h-1zM442 263h1v1h-1zM461 263h1v1h-1zM204 263h1v1h-1zM333 263h1v1h-1zM117 263h1v1h-1zM351 263h1v1h-1zM530 263h1v1h-1zM223 263h1v1h-1zM306 263h1v1h-1zM90 263h1v1h-1zM136 263h1v1h-1zM200 263h1v1h-1zM219 263h1v1h-1zM283 263h1v1h-1zM173 263h1v1h-1zM439 263h1v1h-1zM86 263h1v1h-1zM51 265h2v5h-2zM345 265h2v5h-2zM387 265h2v5h-2zM125 265h2v5h-2zM376 265h1v5h-1zM93 265h1v5h-1zM369 265h1v5h-1zM476 265h2v5h-2zM316 265h2v5h-2zM481 265h2v5h-2zM339 265h2v5h-2zM381 265h2v5h-2zM143 266h2v5h-2zM170 266h2v5h-2zM234 266h2v5h-2zM515 266h2v5h-2zM363 266h2v5h-2zM230 266h2v5h-2zM189 266h2v5h-2zM359 266h2v5h-2zM336 266h2v5h-2zM518 266h2v5h-2zM313 266h2v5h-2zM442 266h2v5h-2zM204 266h2v5h-2zM461 266h2v5h-2zM333 266h2v5h-2zM117 266h2v5h-2zM223 266h2v5h-2zM351 266h2v5h-2zM136 266h2v5h-2zM200 266h2v5h-2zM530 266h2v5h-2zM306 266h2v5h-2zM90 266h2v5h-2zM219 266h2v5h-2zM283 266h2v5h-2zM439 266h2v5h-2zM416 266h2v5h-2zM173 266h2v5h-2zM86 266h2v5h-2zM458 266h2v5h-2zM348 266h2v5h-2zM132 266h2v5h-2zM412 266h2v5h-2zM325 266h2v5h-2zM541 266h2v5h-2zM298 266h2v5h-2zM128 266h2v5h-2zM192 266h2v5h-2zM105 266h2v5h-2zM60 266h2v5h-2zM477 272h1v1h-1zM482 272h1v1h-1zM340 272h1v1h-1zM317 272h1v1h-1zM382 272h1v1h-1zM52 272h1v1h-1zM346 272h1v1h-1zM126 272h1v1h-1zM388 272h1v1h-1zM352 273h1v1h-1zM224 273h1v1h-1zM531 273h1v1h-1zM91 273h1v1h-1zM440 273h1v1h-1zM334 273h1v1h-1zM417 273h1v1h-1zM137 273h1v1h-1zM174 273h1v1h-1zM201 273h1v1h-1zM307 273h1v1h-1zM220 273h1v1h-1zM284 273h1v1h-1zM133 273h1v1h-1zM349 273h1v1h-1zM413 273h1v1h-1zM519 273h1v1h-1zM87 273h1v1h-1zM459 273h1v1h-1zM299 273h1v1h-1zM129 273h1v1h-1zM193 273h1v1h-1zM205 273h1v1h-1zM106 273h1v1h-1zM542 273h1v1h-1zM235 273h1v1h-1zM326 273h1v1h-1zM231 273h1v1h-1zM171 273h1v1h-1zM61 273h1v1h-1zM144 273h1v1h-1zM190 273h1v1h-1zM337 273h1v1h-1zM314 273h1v1h-1zM516 273h1v1h-1zM364 273h1v1h-1zM360 273h1v1h-1zM443 273h1v1h-1zM462 273h1v1h-1zM118 273h1v1h-1zM376 272h1v5h-1zM51 273h2v4h-2zM345 273h2v4h-2zM387 273h2v4h-2zM125 273h2v4h-2zM476 273h2v4h-2zM316 273h2v4h-2zM481 273h2v4h-2zM339 273h2v4h-2zM381 273h2v4h-2zM93 273h1v5h-1zM369 273h1v5h-1zM143 274h2v4h-2zM170 274h2v4h-2zM234 274h2v4h-2zM515 274h2v4h-2zM363 274h2v4h-2zM230 274h2v4h-2zM189 274h2v4h-2zM359 274h2v4h-2zM336 274h2v4h-2zM518 274h2v4h-2zM313 274h2v4h-2zM442 274h2v4h-2zM204 274h2v4h-2zM461 274h2v4h-2zM333 274h2v4h-2zM117 274h2v4h-2zM223 274h2v4h-2zM351 274h2v4h-2zM136 274h2v4h-2zM200 274h2v4h-2zM530 274h2v4h-2zM306 274h2v4h-2zM90 274h2v4h-2zM219 274h2v4h-2zM283 274h2v4h-2zM439 274h2v4h-2zM416 274h2v4h-2zM173 274h2v4h-2zM86 274h2v4h-2zM458 274h2v4h-2zM348 274h2v4h-2zM132 274h2v4h-2zM412 274h2v4h-2zM325 274h2v4h-2zM541 274h2v4h-2zM298 274h2v4h-2zM128 274h2v4h-2zM192 274h2v4h-2zM105 274h2v4h-2zM60 274h2v4h-2zM476 277h1v1h-1zM316 277h1v1h-1zM481 277h1v1h-1zM381 277h1v1h-1zM339 277h1v1h-1zM51 277h1v1h-1zM345 277h1v1h-1zM387 277h1v1h-1zM125 277h1v1h-1zM416 278h1v1h-1zM412 278h1v1h-1zM458 278h1v1h-1zM541 278h1v1h-1zM325 278h1v1h-1zM348 278h1v1h-1zM132 278h1v1h-1zM128 278h1v1h-1zM192 278h1v1h-1zM105 278h1v1h-1zM298 278h1v1h-1zM518 278h1v1h-1zM60 278h1v1h-1zM143 278h1v1h-1zM170 278h1v1h-1zM234 278h1v1h-1zM363 278h1v1h-1zM515 278h1v1h-1zM189 278h1v1h-1zM230 278h1v1h-1zM359 278h1v1h-1zM336 278h1v1h-1zM313 278h1v1h-1zM442 278h1v1h-1zM461 278h1v1h-1zM204 278h1v1h-1zM333 278h1v1h-1zM117 278h1v1h-1zM351 278h1v1h-1zM530 278h1v1h-1zM223 278h1v1h-1zM306 278h1v1h-1zM90 278h1v1h-1zM136 278h1v1h-1zM200 278h1v1h-1zM219 278h1v1h-1zM283 278h1v1h-1zM173 278h1v1h-1zM439 278h1v1h-1zM86 278h1v1h-1zM316 280h2v2h-2zM339 280h2v2h-2zM515 281h2v1h-2zM336 281h2v1h-2zM313 281h2v1h-2zM442 281h2v1h-2zM351 281h2v1h-2zM173 281h2v1h-2zM458 281h2v1h-2zM298 281h2v1h-2zM192 281h2v1h-2zM51 280h2v5h-2zM345 280h2v5h-2zM387 280h2v5h-2zM125 280h2v5h-2zM376 280h1v5h-1zM93 280h1v5h-1zM369 280h1v5h-1zM476 280h2v5h-2zM481 280h2v5h-2zM381 280h2v5h-2zM337 282h4v3h-4zM314 282h4v3h-4zM143 281h2v5h-2zM170 281h2v5h-2zM234 281h2v5h-2zM363 281h2v5h-2zM230 281h2v5h-2zM189 281h2v5h-2zM359 281h2v5h-2zM518 281h2v5h-2zM204 281h2v5h-2zM461 281h2v5h-2zM333 281h2v5h-2zM117 281h2v5h-2zM223 281h2v5h-2zM136 281h2v5h-2zM200 281h2v5h-2zM530 281h2v5h-2zM306 281h2v5h-2zM90 281h2v5h-2zM219 281h2v5h-2zM283 281h2v5h-2zM439 281h2v5h-2zM416 281h2v5h-2zM86 281h2v5h-2zM348 281h2v5h-2zM132 281h2v5h-2zM412 281h2v5h-2zM325 281h2v5h-2zM541 281h2v5h-2zM128 281h2v5h-2zM105 281h2v5h-2zM60 281h2v5h-2zM193 282h2v4h-2zM514 282h2v4h-2zM299 282h2v4h-2zM457 282h2v4h-2zM443 282h2v4h-2zM352 282h2v4h-2zM174 282h2v4h-2zM337 285h2v1h-2zM314 285h2v1h-2zM477 287h1v1h-1zM482 287h1v1h-1zM340 287h1v1h-1zM317 287h1v1h-1zM382 287h1v1h-1zM52 287h1v1h-1zM346 287h1v1h-1zM126 287h1v1h-1zM388 287h1v1h-1zM224 288h1v1h-1zM462 288h1v1h-1zM458 288h1v1h-1zM531 288h1v1h-1zM91 288h1v1h-1zM440 288h1v1h-1zM334 288h1v1h-1zM353 288h1v1h-1zM137 288h1v1h-1zM201 288h1v1h-1zM417 288h1v1h-1zM307 288h1v1h-1zM220 288h1v1h-1zM284 288h1v1h-1zM315 288h3v1h-3zM133 288h1v1h-1zM349 288h1v1h-1zM413 288h1v1h-1zM519 288h1v1h-1zM87 288h1v1h-1zM338 288h3v1h-3zM515 288h1v1h-1zM129 288h1v1h-1zM205 288h1v1h-1zM106 288h1v1h-1zM542 288h1v1h-1zM235 288h1v1h-1zM326 288h1v1h-1zM175 288h1v1h-1zM231 288h1v1h-1zM194 288h1v1h-1zM171 288h1v1h-1zM61 288h1v1h-1zM144 288h1v1h-1zM190 288h1v1h-1zM300 288h1v1h-1zM364 288h1v1h-1zM360 288h1v1h-1zM444 288h1v1h-1zM118 288h1v1h-1zM376 287h1v5h-1zM51 288h2v4h-2zM345 288h2v4h-2zM387 288h2v4h-2zM125 288h2v4h-2zM476 288h2v4h-2zM481 288h2v4h-2zM381 288h2v4h-2zM337 289h4v3h-4zM314 289h4v3h-4zM93 288h1v5h-1zM369 288h1v5h-1zM143 289h2v4h-2zM193 289h2v4h-2zM514 289h2v4h-2zM170 289h2v4h-2zM234 289h2v4h-2zM299 289h2v4h-2zM363 289h2v4h-2zM230 289h2v4h-2zM189 289h2v4h-2zM359 289h2v4h-2zM518 289h2v4h-2zM204 289h2v4h-2zM461 289h2v4h-2zM333 289h2v4h-2zM117 289h2v4h-2zM223 289h2v4h-2zM136 289h2v4h-2zM200 289h2v4h-2zM457 289h2v4h-2zM530 289h2v4h-2zM306 289h2v4h-2zM90 289h2v4h-2zM443 289h2v4h-2zM219 289h2v4h-2zM283 289h2v4h-2zM439 289h2v4h-2zM352 289h2v4h-2zM416 289h2v4h-2zM86 289h2v4h-2zM348 289h2v4h-2zM132 289h2v4h-2zM412 289h2v4h-2zM325 289h2v4h-2zM541 289h2v4h-2zM174 289h2v4h-2zM128 289h2v4h-2zM105 289h2v4h-2zM60 289h2v4h-2zM337 292h3v1h-3zM314 292h3v1h-3zM476 292h1v1h-1zM481 292h1v1h-1zM381 292h1v1h-1zM51 292h1v1h-1zM345 292h1v1h-1zM387 292h1v1h-1zM125 292h1v1h-1zM352 293h1v1h-1zM416 293h1v1h-1zM412 293h1v1h-1zM541 293h1v1h-1zM325 293h1v1h-1zM348 293h1v1h-1zM132 293h1v1h-1zM174 293h1v1h-1zM128 293h1v1h-1zM105 293h1v1h-1zM518 293h1v1h-1zM60 293h1v1h-1zM514 293h1v1h-1zM143 293h1v1h-1zM170 293h1v1h-1zM234 293h1v1h-1zM299 293h1v1h-1zM193 293h1v1h-1zM363 293h1v1h-1zM189 293h1v1h-1zM230 293h1v1h-1zM359 293h1v1h-1zM337 293h1v1h-1zM314 293h1v1h-1zM461 293h1v1h-1zM204 293h1v1h-1zM333 293h1v1h-1zM117 293h1v1h-1zM457 293h1v1h-1zM223 293h1v1h-1zM530 293h1v1h-1zM306 293h1v1h-1zM90 293h1v1h-1zM136 293h1v1h-1zM200 293h1v1h-1zM219 293h1v1h-1zM283 293h1v1h-1zM443 293h1v1h-1zM439 293h1v1h-1zM86 293h1v1h-1zM316 295h2v1h-2zM339 295h2v1h-2zM51 295h2v5h-2zM345 295h2v5h-2zM387 295h2v5h-2zM125 295h2v5h-2zM376 295h1v5h-1zM93 295h1v5h-1zM369 295h1v5h-1zM476 295h2v5h-2zM481 295h2v5h-2zM381 295h2v5h-2zM337 296h4v4h-4zM314 296h4v4h-4zM143 296h2v5h-2zM193 296h2v5h-2zM514 296h2v5h-2zM170 296h2v5h-2zM234 296h2v5h-2zM299 296h2v5h-2zM363 296h2v5h-2zM230 296h2v5h-2zM189 296h2v5h-2zM359 296h2v5h-2zM518 296h2v5h-2zM204 296h2v5h-2zM461 296h2v5h-2zM333 296h2v5h-2zM117 296h2v5h-2zM223 296h2v5h-2zM136 296h2v5h-2zM200 296h2v5h-2zM457 296h2v5h-2zM530 296h2v5h-2zM306 296h2v5h-2zM90 296h2v5h-2zM443 296h2v5h-2zM219 296h2v5h-2zM283 296h2v5h-2zM439 296h2v5h-2zM352 296h2v5h-2zM416 296h2v5h-2zM86 296h2v5h-2zM348 296h2v5h-2zM132 296h2v5h-2zM412 296h2v5h-2zM325 296h2v5h-2zM541 296h2v5h-2zM174 296h2v5h-2zM128 296h2v5h-2zM105 296h2v5h-2zM60 296h2v5h-2zM337 300h2v1h-2zM314 300h2v1h-2zM477 302h1v1h-1zM482 302h1v1h-1zM340 302h1v1h-1zM317 302h1v1h-1zM382 302h1v1h-1zM52 302h1v1h-1zM346 302h1v1h-1zM126 302h1v1h-1zM388 302h1v1h-1zM224 303h1v1h-1zM462 303h1v1h-1zM458 303h1v1h-1zM531 303h1v1h-1zM91 303h1v1h-1zM440 303h1v1h-1zM334 303h1v1h-1zM353 303h1v1h-1zM137 303h1v1h-1zM201 303h1v1h-1zM417 303h1v1h-1zM307 303h1v1h-1zM220 303h1v1h-1zM284 303h1v1h-1zM315 303h3v1h-3zM133 303h1v1h-1zM349 303h1v1h-1zM413 303h1v1h-1zM519 303h1v1h-1zM87 303h1v1h-1zM338 303h3v1h-3zM515 303h1v1h-1zM129 303h1v1h-1zM205 303h1v1h-1zM106 303h1v1h-1zM542 303h1v1h-1zM235 303h1v1h-1zM326 303h1v1h-1zM175 303h1v1h-1zM231 303h1v1h-1zM194 303h1v1h-1zM171 303h1v1h-1zM61 303h1v1h-1zM144 303h1v1h-1zM190 303h1v1h-1zM300 303h1v1h-1zM364 303h1v1h-1zM360 303h1v1h-1zM444 303h1v1h-1zM118 303h1v1h-1zM376 302h1v3h-1zM345 303h2v2h-2zM125 303h2v2h-2zM93 303h1v2h-1zM369 303h1v2h-1zM143 304h2v1h-2zM170 304h2v1h-2zM234 304h2v1h-2zM363 304h2v1h-2zM230 304h2v1h-2zM189 304h2v1h-2zM359 304h2v1h-2zM518 304h2v1h-2zM204 304h2v1h-2zM461 304h2v1h-2zM333 304h2v1h-2zM117 304h2v1h-2zM223 304h2v1h-2zM136 304h2v1h-2zM200 304h2v1h-2zM530 304h2v1h-2zM306 304h2v1h-2zM90 304h2v1h-2zM219 304h2v1h-2zM283 304h2v1h-2zM439 304h2v1h-2zM416 304h2v1h-2zM86 304h2v1h-2zM348 304h2v1h-2zM132 304h2v1h-2zM412 304h2v1h-2zM325 304h2v1h-2zM541 304h2v1h-2zM128 304h2v1h-2zM105 304h2v1h-2zM60 304h2v1h-2zM51 303h2v4h-2zM387 303h2v4h-2zM476 303h2v4h-2zM481 303h2v4h-2zM381 303h2v4h-2zM337 304h4v3h-4zM314 304h4v3h-4zM345 305h4v2h-4zM125 305h4v2h-4zM193 304h2v4h-2zM514 304h2v4h-2zM299 304h2v4h-2zM457 304h2v4h-2zM443 304h2v4h-2zM352 304h2v4h-2zM174 304h2v4h-2zM106 305h2v3h-2zM235 305h2v3h-2zM326 305h2v3h-2zM542 305h2v3h-2zM529 305h2v3h-2zM332 305h2v3h-2zM61 305h2v3h-2zM116 305h2v3h-2zM133 305h4v3h-4zM144 305h2v3h-2zM199 305h2v3h-2zM282 305h2v3h-2zM411 305h2v3h-2zM364 305h2v3h-2zM438 305h2v3h-2zM85 305h2v3h-2zM305 305h2v3h-2zM218 305h2v3h-2zM205 305h2v3h-2zM462 305h2v3h-2zM169 305h2v3h-2zM224 305h2v3h-2zM91 305h2v3h-2zM417 305h2v3h-2zM188 305h2v3h-2zM229 305h2v3h-2zM519 305h2v3h-2zM358 305h2v3h-2zM337 307h3v1h-3zM314 307h3v1h-3zM476 307h1v1h-1zM481 307h1v1h-1zM381 307h1v1h-1zM51 307h1v1h-1zM345 307h1v1h-1zM387 307h1v1h-1zM347 307h2v1h-2zM125 307h1v1h-1zM127 307h2v1h-2zM352 308h1v1h-1zM127 308h1v1h-1zM224 308h1v1h-1zM169 308h1v1h-1zM91 308h1v1h-1zM417 308h1v1h-1zM174 308h1v1h-1zM229 308h1v1h-1zM358 308h1v1h-1zM133 308h1v1h-1zM188 308h1v1h-1zM519 308h1v1h-1zM514 308h1v1h-1zM299 308h1v1h-1zM193 308h1v1h-1zM205 308h1v1h-1zM106 308h1v1h-1zM542 308h1v1h-1zM235 308h1v1h-1zM326 308h1v1h-1zM529 308h1v1h-1zM332 308h1v1h-1zM116 308h1v1h-1zM61 308h1v1h-1zM135 308h1v1h-1zM144 308h1v1h-1zM199 308h1v1h-1zM337 308h1v1h-1zM314 308h1v1h-1zM282 308h1v1h-1zM364 308h1v1h-1zM411 308h1v1h-1zM85 308h1v1h-1zM438 308h1v1h-1zM457 308h1v1h-1zM305 308h1v1h-1zM443 308h1v1h-1zM218 308h1v1h-1zM347 308h1v1h-1zM462 308h1v1h-1zM345 310h2v1h-2zM125 310h2v1h-2zM316 310h2v1h-2zM339 310h2v1h-2zM476 310h2v2h-2zM51 310h2v5h-2zM387 310h2v5h-2zM481 310h2v5h-2zM381 310h2v5h-2zM345 311h4v4h-4zM125 311h4v4h-4zM337 311h4v4h-4zM314 311h4v4h-4zM475 312h2v3h-2zM193 311h2v5h-2zM514 311h2v5h-2zM106 311h2v5h-2zM235 311h2v5h-2zM299 311h2v5h-2zM326 311h2v5h-2zM542 311h2v5h-2zM529 311h2v5h-2zM332 311h2v5h-2zM61 311h2v5h-2zM116 311h2v5h-2zM133 311h4v5h-4zM144 311h2v5h-2zM199 311h2v5h-2zM282 311h2v5h-2zM411 311h2v5h-2zM364 311h2v5h-2zM438 311h2v5h-2zM85 311h2v5h-2zM457 311h2v5h-2zM305 311h2v5h-2zM443 311h2v5h-2zM218 311h2v5h-2zM205 311h2v5h-2zM352 311h2v5h-2zM462 311h2v5h-2zM169 311h2v5h-2zM224 311h2v5h-2zM91 311h2v5h-2zM174 311h2v5h-2zM417 311h2v5h-2zM188 311h2v5h-2zM229 311h2v5h-2zM519 311h2v5h-2zM358 311h2v5h-2zM337 315h2v1h-2zM314 315h2v1h-2zM347 315h2v1h-2zM127 315h2v1h-2zM476 317h1v1h-1zM482 317h1v1h-1zM340 317h1v1h-1zM317 317h1v1h-1zM382 317h1v1h-1zM52 317h1v1h-1zM346 317h1v1h-1zM126 317h1v1h-1zM388 317h1v1h-1zM412 318h1v1h-1zM458 318h1v1h-1zM348 318h1v1h-1zM206 318h1v1h-1zM353 318h1v1h-1zM128 318h1v1h-1zM463 318h1v1h-1zM345 318h2v1h-2zM315 318h3v1h-3zM125 318h2v1h-2zM170 318h1v1h-1zM225 318h1v1h-1zM338 318h3v1h-3zM418 318h1v1h-1zM515 318h1v1h-1zM189 318h1v1h-1zM92 318h1v1h-1zM327 318h1v1h-1zM175 318h1v1h-1zM230 318h1v1h-1zM520 318h1v1h-1zM359 318h1v1h-1zM134 318h1v1h-1zM194 318h1v1h-1zM107 318h1v1h-1zM543 318h1v1h-1zM236 318h1v1h-1zM300 318h1v1h-1zM365 318h1v1h-1zM333 318h1v1h-1zM62 318h1v1h-1zM117 318h1v1h-1zM530 318h1v1h-1zM306 318h1v1h-1zM136 318h1v1h-1zM145 318h1v1h-1zM200 318h1v1h-1zM219 318h1v1h-1zM283 318h1v1h-1zM444 318h1v1h-1zM439 318h1v1h-1zM86 318h1v1h-1zM51 318h2v4h-2zM387 318h2v4h-2zM475 318h2v4h-2zM481 318h2v4h-2zM381 318h2v4h-2zM345 319h4v3h-4zM125 319h4v3h-4zM337 319h4v3h-4zM314 319h4v3h-4zM193 319h2v4h-2zM514 319h2v4h-2zM106 319h2v4h-2zM235 319h2v4h-2zM299 319h2v4h-2zM326 319h2v4h-2zM542 319h2v4h-2zM529 319h2v4h-2zM332 319h2v4h-2zM61 319h2v4h-2zM116 319h2v4h-2zM133 319h4v4h-4zM144 319h2v4h-2zM199 319h2v4h-2zM282 319h2v4h-2zM411 319h2v4h-2zM364 319h2v4h-2zM438 319h2v4h-2zM85 319h2v4h-2zM457 319h2v4h-2zM305 319h2v4h-2zM443 319h2v4h-2zM218 319h2v4h-2zM205 319h2v4h-2zM352 319h2v4h-2zM462 319h2v4h-2zM169 319h2v4h-2zM224 319h2v4h-2zM91 319h2v4h-2zM174 319h2v4h-2zM417 319h2v4h-2zM188 319h2v4h-2zM229 319h2v4h-2zM519 319h2v4h-2zM358 319h2v4h-2zM337 322h3v1h-3zM314 322h3v1h-3zM481 322h1v1h-1zM381 322h1v1h-1zM51 322h1v1h-1zM345 322h1v1h-1zM387 322h1v1h-1zM347 322h2v1h-2zM125 322h1v1h-1zM127 322h2v1h-2zM475 322h1v1h-1zM352 323h1v1h-1zM127 323h1v1h-1zM224 323h1v1h-1zM169 323h1v1h-1zM91 323h1v1h-1zM417 323h1v1h-1zM174 323h1v1h-1zM229 323h1v1h-1zM358 323h1v1h-1zM133 323h1v1h-1zM188 323h1v1h-1zM519 323h1v1h-1zM514 323h1v1h-1zM299 323h1v1h-1zM193 323h1v1h-1zM205 323h1v1h-1zM106 323h1v1h-1zM542 323h1v1h-1zM235 323h1v1h-1zM326 323h1v1h-1zM529 323h1v1h-1zM332 323h1v1h-1zM116 323h1v1h-1zM61 323h1v1h-1zM135 323h1v1h-1zM144 323h1v1h-1zM199 323h1v1h-1zM337 323h1v1h-1zM314 323h1v1h-1zM282 323h1v1h-1zM364 323h1v1h-1zM411 323h1v1h-1zM85 323h1v1h-1zM438 323h1v1h-1zM457 323h1v1h-1zM305 323h1v1h-1zM443 323h1v1h-1zM218 323h1v1h-1zM347 323h1v1h-1zM462 323h1v1h-1zM345 325h2v1h-2zM125 325h2v1h-2zM316 325h2v1h-2zM339 325h2v1h-2zM51 325h2v2h-2zM387 325h2v2h-2zM481 325h2v2h-2zM381 325h2v2h-2zM345 326h4v1h-4zM125 326h4v1h-4zM337 326h4v1h-4zM314 326h4v1h-4zM475 325h2v5h-2zM337 327h3v3h-3zM314 327h3v3h-3zM346 327h3v3h-3zM126 327h3v3h-3zM377 327h1v3h-1zM368 327h1v3h-1zM388 327h2v3h-2zM380 327h2v3h-2zM482 327h2v3h-2zM50 327h2v3h-2zM193 326h2v5h-2zM514 326h2v5h-2zM106 326h2v5h-2zM235 326h2v5h-2zM299 326h2v5h-2zM326 326h2v5h-2zM542 326h2v5h-2zM529 326h2v5h-2zM332 326h2v5h-2zM61 326h2v5h-2zM116 326h2v5h-2zM133 326h4v5h-4zM144 326h2v5h-2zM199 326h2v5h-2zM282 326h2v5h-2zM411 326h2v5h-2zM364 326h2v5h-2zM438 326h2v5h-2zM85 326h2v5h-2zM457 326h2v5h-2zM305 326h2v5h-2zM443 326h2v5h-2zM218 326h2v5h-2zM205 326h2v5h-2zM352 326h2v5h-2zM462 326h2v5h-2zM169 326h2v5h-2zM224 326h2v5h-2zM91 326h2v5h-2zM174 326h2v5h-2zM417 326h2v5h-2zM188 326h2v5h-2zM229 326h2v5h-2zM519 326h2v5h-2zM358 326h2v5h-2zM337 330h2v1h-2zM314 330h2v1h-2zM347 330h2v1h-2zM127 330h2v1h-2zM127 332h1v1h-1zM476 332h1v1h-1zM316 332h1v1h-1zM389 332h1v1h-1zM381 332h1v1h-1zM339 332h1v1h-1zM51 332h1v1h-1zM483 332h1v1h-1zM347 332h1v1h-1zM412 333h1v1h-1zM458 333h1v1h-1zM206 333h1v1h-1zM353 333h1v1h-1zM463 333h1v1h-1zM170 333h1v1h-1zM225 333h1v1h-1zM515 333h1v1h-1zM418 333h1v1h-1zM189 333h1v1h-1zM92 333h1v1h-1zM327 333h1v1h-1zM175 333h1v1h-1zM230 333h1v1h-1zM520 333h1v1h-1zM359 333h1v1h-1zM134 333h1v1h-1zM194 333h1v1h-1zM315 333h2v1h-2zM107 333h1v1h-1zM543 333h1v1h-1zM338 333h2v1h-2zM236 333h1v1h-1zM300 333h1v1h-1zM365 333h1v1h-1zM333 333h1v1h-1zM62 333h1v1h-1zM117 333h1v1h-1zM530 333h1v1h-1zM306 333h1v1h-1zM136 333h1v1h-1zM145 333h1v1h-1zM200 333h1v1h-1zM219 333h1v1h-1zM283 333h1v1h-1zM444 333h1v1h-1zM439 333h1v1h-1zM86 333h1v1h-1zM377 332h1v5h-1zM475 333h2v4h-2zM388 333h2v4h-2zM380 333h2v4h-2zM50 333h2v4h-2zM482 333h2v4h-2zM337 334h3v3h-3zM314 334h3v3h-3zM346 333h3v5h-3zM126 333h3v5h-3zM368 333h1v5h-1zM193 334h2v4h-2zM106 334h2v4h-2zM514 334h2v4h-2zM235 334h2v4h-2zM299 334h2v4h-2zM326 334h2v4h-2zM542 334h2v4h-2zM529 334h2v4h-2zM332 334h2v4h-2zM61 334h2v4h-2zM116 334h2v4h-2zM133 334h4v4h-4zM144 334h2v4h-2zM199 334h2v4h-2zM282 334h2v4h-2zM411 334h2v4h-2zM364 334h2v4h-2zM438 334h2v4h-2zM85 334h2v4h-2zM457 334h2v4h-2zM305 334h2v4h-2zM218 334h2v4h-2zM443 334h2v4h-2zM205 334h2v4h-2zM352 334h2v4h-2zM462 334h2v4h-2zM169 334h2v4h-2zM224 334h2v4h-2zM91 334h2v4h-2zM174 334h2v4h-2zM417 334h2v4h-2zM188 334h2v4h-2zM229 334h2v4h-2zM519 334h2v4h-2zM358 334h2v4h-2zM380 337h1v1h-1zM482 337h1v1h-1zM50 337h1v1h-1zM388 337h1v1h-1zM337 337h2v1h-2zM314 337h2v1h-2zM475 337h1v1h-1zM352 338h1v1h-1zM127 338h1v1h-1zM224 338h1v1h-1zM169 338h1v1h-1zM91 338h1v1h-1zM417 338h1v1h-1zM174 338h1v1h-1zM229 338h1v1h-1zM358 338h1v1h-1zM133 338h1v1h-1zM188 338h1v1h-1zM519 338h1v1h-1zM514 338h1v1h-1zM299 338h1v1h-1zM193 338h1v1h-1zM205 338h1v1h-1zM106 338h1v1h-1zM542 338h1v1h-1zM235 338h1v1h-1zM326 338h1v1h-1zM529 338h1v1h-1zM332 338h1v1h-1zM116 338h1v1h-1zM61 338h1v1h-1zM135 338h1v1h-1zM144 338h1v1h-1zM199 338h1v1h-1zM337 338h1v1h-1zM314 338h1v1h-1zM282 338h1v1h-1zM364 338h1v1h-1zM411 338h1v1h-1zM85 338h1v1h-1zM438 338h1v1h-1zM457 338h1v1h-1zM305 338h1v1h-1zM443 338h1v1h-1zM218 338h1v1h-1zM347 338h1v1h-1zM462 338h1v1h-1zM346 340h2v1h-2zM92 340h1v1h-1zM126 340h2v1h-2zM315 340h2v1h-2zM338 340h2v1h-2zM337 341h3v1h-3zM193 341h2v1h-2zM314 341h3v1h-3zM514 341h2v1h-2zM299 341h2v1h-2zM457 341h2v1h-2zM443 341h2v1h-2zM352 341h2v1h-2zM174 341h2v1h-2zM377 340h1v5h-1zM475 340h2v5h-2zM368 340h1v5h-1zM388 340h2v5h-2zM380 340h2v5h-2zM482 340h2v5h-2zM50 340h2v5h-2zM346 341h3v4h-3zM126 341h3v4h-3zM106 341h2v5h-2zM235 341h2v5h-2zM326 341h2v5h-2zM542 341h2v5h-2zM529 341h2v5h-2zM332 341h2v5h-2zM61 341h2v5h-2zM116 341h2v5h-2zM133 341h4v5h-4zM144 341h2v5h-2zM199 341h2v5h-2zM282 341h2v5h-2zM411 341h2v5h-2zM364 341h2v5h-2zM438 341h2v5h-2zM85 341h2v5h-2zM305 341h2v5h-2zM218 341h2v5h-2zM205 341h2v5h-2zM462 341h2v5h-2zM169 341h2v5h-2zM224 341h2v5h-2zM91 341h2v5h-2zM417 341h2v5h-2zM188 341h2v5h-2zM229 341h2v5h-2zM519 341h2v5h-2zM358 341h2v5h-2zM175 342h2v4h-2zM194 342h2v4h-2zM456 342h2v4h-2zM300 342h2v4h-2zM315 342h2v4h-2zM444 342h2v4h-2zM513 342h2v4h-2zM338 342h2v4h-2zM353 342h2v4h-2zM347 345h2v1h-2zM127 345h2v1h-2zM127 347h1v1h-1zM476 347h1v1h-1zM316 347h1v1h-1zM389 347h1v1h-1zM381 347h1v1h-1zM339 347h1v1h-1zM51 347h1v1h-1zM483 347h1v1h-1zM347 347h1v1h-1zM412 348h1v1h-1zM206 348h1v1h-1zM463 348h1v1h-1zM445 348h1v1h-1zM170 348h1v1h-1zM225 348h1v1h-1zM514 348h1v1h-1zM354 348h1v1h-1zM418 348h1v1h-1zM189 348h1v1h-1zM92 348h1v1h-1zM327 348h1v1h-1zM230 348h1v1h-1zM520 348h1v1h-1zM359 348h1v1h-1zM134 348h1v1h-1zM107 348h1v1h-1zM543 348h1v1h-1zM176 348h1v1h-1zM236 348h1v1h-1zM365 348h1v1h-1zM195 348h1v1h-1zM333 348h1v1h-1zM62 348h1v1h-1zM117 348h1v1h-1zM457 348h1v1h-1zM530 348h1v1h-1zM306 348h1v1h-1zM136 348h1v1h-1zM145 348h1v1h-1zM200 348h1v1h-1zM219 348h1v1h-1zM283 348h1v1h-1zM301 348h1v1h-1zM439 348h1v1h-1zM86 348h1v1h-1zM377 347h1v3h-1zM346 348h3v2h-3zM126 348h3v2h-3zM368 348h1v2h-1zM106 349h2v1h-2zM235 349h2v1h-2zM326 349h2v1h-2zM542 349h2v1h-2zM529 349h2v1h-2zM332 349h2v1h-2zM61 349h2v1h-2zM116 349h2v1h-2zM133 349h4v1h-4zM144 349h2v1h-2zM199 349h2v1h-2zM282 349h2v1h-2zM411 349h2v1h-2zM364 349h2v1h-2zM438 349h2v1h-2zM85 349h2v1h-2zM305 349h2v1h-2zM218 349h2v1h-2zM205 349h2v1h-2zM462 349h2v1h-2zM169 349h2v1h-2zM224 349h2v1h-2zM91 349h2v1h-2zM417 349h2v1h-2zM188 349h2v1h-2zM229 349h2v1h-2zM519 349h2v1h-2zM358 349h2v1h-2zM475 348h2v4h-2zM388 348h2v4h-2zM380 348h2v4h-2zM50 348h2v4h-2zM482 348h2v4h-2zM315 348h2v5h-2zM338 348h2v5h-2zM175 349h2v4h-2zM194 349h2v4h-2zM456 349h2v4h-2zM300 349h2v4h-2zM444 349h2v4h-2zM513 349h2v4h-2zM353 349h2v4h-2zM198 350h2v3h-2zM418 350h2v3h-2zM331 350h2v3h-2zM225 350h2v3h-2zM437 350h2v3h-2zM134 350h2v3h-2zM327 350h2v3h-2zM520 350h2v3h-2zM304 350h2v3h-2zM281 350h2v3h-2zM107 350h2v3h-2zM543 350h2v3h-2zM84 350h2v3h-2zM217 350h2v3h-2zM346 350h2v3h-2zM410 350h2v3h-2zM236 350h2v3h-2zM365 350h2v3h-2zM62 350h2v3h-2zM126 350h2v3h-2zM168 350h2v3h-2zM145 350h2v3h-2zM228 350h2v3h-2zM187 350h2v3h-2zM357 350h2v3h-2zM463 350h2v3h-2zM206 350h2v3h-2zM115 350h2v3h-2zM528 350h2v3h-2zM380 352h1v1h-1zM482 352h1v1h-1zM50 352h1v1h-1zM388 352h1v1h-1zM475 352h1v1h-1zM513 353h1v1h-1zM338 353h1v1h-1zM187 353h1v1h-1zM357 353h1v1h-1zM206 353h1v1h-1zM353 353h1v1h-1zM463 353h1v1h-1zM115 353h1v1h-1zM198 353h1v1h-1zM528 353h1v1h-1zM225 353h1v1h-1zM418 353h1v1h-1zM331 353h1v1h-1zM327 353h1v1h-1zM175 353h1v1h-1zM437 353h1v1h-1zM520 353h1v1h-1zM304 353h1v1h-1zM134 353h1v1h-1zM281 353h1v1h-1zM194 353h1v1h-1zM107 353h1v1h-1zM84 353h1v1h-1zM543 353h1v1h-1zM346 353h1v1h-1zM410 353h1v1h-1zM456 353h1v1h-1zM217 353h1v1h-1zM236 353h1v1h-1zM300 353h1v1h-1zM365 353h1v1h-1zM62 353h1v1h-1zM126 353h1v1h-1zM168 353h1v1h-1zM145 353h1v1h-1zM315 353h1v1h-1zM444 353h1v1h-1zM228 353h1v1h-1zM475 355h2v5h-2zM388 355h2v5h-2zM380 355h2v5h-2zM482 355h2v5h-2zM50 355h2v5h-2zM346 355h2v6h-2zM126 355h2v6h-2zM315 355h2v6h-2zM338 355h2v6h-2zM198 356h2v5h-2zM418 356h2v5h-2zM331 356h2v5h-2zM225 356h2v5h-2zM437 356h2v5h-2zM134 356h2v5h-2zM327 356h2v5h-2zM175 356h2v5h-2zM520 356h2v5h-2zM304 356h2v5h-2zM281 356h2v5h-2zM194 356h2v5h-2zM107 356h2v5h-2zM543 356h2v5h-2zM84 356h2v5h-2zM456 356h2v5h-2zM217 356h2v5h-2zM410 356h2v5h-2zM236 356h2v5h-2zM300 356h2v5h-2zM365 356h2v5h-2zM62 356h2v5h-2zM168 356h2v5h-2zM145 356h2v5h-2zM444 356h2v5h-2zM228 356h2v5h-2zM513 356h2v5h-2zM187 356h2v5h-2zM357 356h2v5h-2zM463 356h2v5h-2zM206 356h2v5h-2zM353 356h2v5h-2zM115 356h2v5h-2zM528 356h2v5h-2zM127 362h1v1h-1zM476 362h1v1h-1zM316 362h1v1h-1zM389 362h1v1h-1zM381 362h1v1h-1zM339 362h1v1h-1zM51 362h1v1h-1zM483 362h1v1h-1zM347 362h1v1h-1zM63 363h1v1h-1zM169 363h1v1h-1zM146 363h1v1h-1zM445 363h1v1h-1zM229 363h1v1h-1zM358 363h1v1h-1zM188 363h1v1h-1zM207 363h1v1h-1zM514 363h1v1h-1zM354 363h1v1h-1zM301 363h1v1h-1zM464 363h1v1h-1zM529 363h1v1h-1zM419 363h1v1h-1zM332 363h1v1h-1zM116 363h1v1h-1zM226 363h1v1h-1zM135 363h1v1h-1zM199 363h1v1h-1zM328 363h1v1h-1zM176 363h1v1h-1zM282 363h1v1h-1zM411 363h1v1h-1zM85 363h1v1h-1zM195 363h1v1h-1zM108 363h1v1h-1zM438 363h1v1h-1zM544 363h1v1h-1zM457 363h1v1h-1zM305 363h1v1h-1zM521 363h1v1h-1zM218 363h1v1h-1zM237 363h1v1h-1zM366 363h1v1h-1zM475 363h2v4h-2zM388 363h2v4h-2zM380 363h2v4h-2zM482 363h2v4h-2zM50 363h2v4h-2zM346 363h2v5h-2zM126 363h2v5h-2zM315 363h2v5h-2zM338 363h2v5h-2zM198 364h2v4h-2zM418 364h2v4h-2zM331 364h2v4h-2zM225 364h2v4h-2zM437 364h2v4h-2zM134 364h2v4h-2zM327 364h2v4h-2zM175 364h2v4h-2zM520 364h2v4h-2zM304 364h2v4h-2zM281 364h2v4h-2zM194 364h2v4h-2zM107 364h2v4h-2zM543 364h2v4h-2zM84 364h2v4h-2zM456 364h2v4h-2zM217 364h2v4h-2zM410 364h2v4h-2zM236 364h2v4h-2zM300 364h2v4h-2zM365 364h2v4h-2zM62 364h2v4h-2zM168 364h2v4h-2zM145 364h2v4h-2zM444 364h2v4h-2zM228 364h2v4h-2zM513 364h2v4h-2zM187 364h2v4h-2zM357 364h2v4h-2zM463 364h2v4h-2zM206 364h2v4h-2zM353 364h2v4h-2zM115 364h2v4h-2zM528 364h2v4h-2zM380 367h1v1h-1zM482 367h1v1h-1zM50 367h1v1h-1zM388 367h1v1h-1zM475 367h1v1h-1zM513 368h1v1h-1zM338 368h1v1h-1zM187 368h1v1h-1zM357 368h1v1h-1zM206 368h1v1h-1zM353 368h1v1h-1zM463 368h1v1h-1zM115 368h1v1h-1zM198 368h1v1h-1zM528 368h1v1h-1zM225 368h1v1h-1zM418 368h1v1h-1zM331 368h1v1h-1zM327 368h1v1h-1zM175 368h1v1h-1zM437 368h1v1h-1zM520 368h1v1h-1zM304 368h1v1h-1zM134 368h1v1h-1zM281 368h1v1h-1zM194 368h1v1h-1zM107 368h1v1h-1zM84 368h1v1h-1zM543 368h1v1h-1zM346 368h1v1h-1zM410 368h1v1h-1zM456 368h1v1h-1zM217 368h1v1h-1zM236 368h1v1h-1zM300 368h1v1h-1zM365 368h1v1h-1zM62 368h1v1h-1zM126 368h1v1h-1zM168 368h1v1h-1zM145 368h1v1h-1zM315 368h1v1h-1zM444 368h1v1h-1zM228 368h1v1h-1zM475 370h2v1h-2zM388 370h2v1h-2zM380 370h2v1h-2zM482 370h2v1h-2zM50 370h2v1h-2zM315 370h2v1h-2zM338 370h2v1h-2zM346 370h2v1h-2zM126 370h2v1h-2zM171 416h5v1h-5zM163 416h5v2h-5zM178 416h5v2h-5zM170 417h5v1h-5z"/>
<path fill="#0000b4" d="M160 191h2v23h-2zM96 191h2v23h-2zM293 191h2v23h-2zM73 191h2v23h-2zM372 191h2v23h-2zM160 214h3v8h-3zM292 214h4v45h-4zM95 214h4v45h-4zM72 214h4v45h-4zM371 214h4v45h-4zM159 222h4v37h-4zM159 259h2v23h-2zM98 259h2v46h-2zM291 259h2v46h-2zM75 259h2v46h-2zM71 259h2v46h-2zM370 259h2v46h-2zM374 259h2v46h-2zM94 259h2v46h-2zM295 259h2v46h-2zM162 259h2v46h-2zM158 282h2v60h-2zM296 305h2v45h-2zM369 305h2v45h-2zM163 305h2v45h-2zM99 305h2v45h-2zM76 305h2v45h-2zM375 305h2v45h-2zM70 305h2v45h-2zM290 305h2v45h-2zM93 305h2v45h-2zM157 342h2v29h-2zM297 350h2v21h-2zM100 350h2v21h-2zM164 350h2v21h-2zM77 350h2v21h-2zM376 350h2v21h-2zM289 350h2v21h-2zM92 350h2v21h-2zM69 350h2v21h-2zM368 350h2v21h-2zM77 371h17v2h-17zM297 371h73v2h-73zM40 371h31v2h-31zM376 371h184v2h-184zM164 371h127v2h-127zM100 371h59v2h-59zM303 416h22v2h-22z"/>
</g>
<g class="s">
<text x="28.5" y="14" textLength="7" lengthAdjust="spacingAndGlyphs">2</text>
<text x="28.5" y="376" textLength="7" lengthAdjust="spacingAndGlyphs">0</text>
<text x="564.5" y="14" textLength="7" lengthAdjust="spacingAndGlyphs">2</text>
<text x="564.5" y="376" textLength="7" lengthAdjust="spacingAndGlyphs">0</text>
<text x="15.3" y="389" textLength="49" lengthAdjust="spacingAndGlyphs">2014-04</text>
<text x="68.3" y="389" textLength="49" lengthAdjust="spacingAndGlyphs">2015-06</text>
<text x="121.3" y="389" textLength="49" lengthAdjust="spacingAndGlyphs">2016-08</text>
<text x="174.3" y="389" textLength="49" lengthAdjust="spacingAndGlyphs">2017-10</text>
<text x="227.3" y="389" textLength="49" lengthAdjust="spacingAndGlyphs">2018-12</text>
<text x="280.3" y="389" textLength="49" lengthAdjust="spacingAndGlyphs">2020-02</text>
<text x="333.3" y="389" textLength="49" lengthAdjust="spacingAndGlyphs">2021-04</text>
<text x="386.3" y="389" textLength="49" lengthAdjust="spacingAndGlyphs">2022-06</text>
<text x="439.3" y="389" textLength="49" lengthAdjust="spacingAndGlyphs">2023-08</text>
<text x="492.3" y="389" textLength="49" lengthAdjust="spacingAndGlyphs">2024-10</text>
<text x="190.5" y="422" textLength="98" lengthAdjust="spacingAndGlyphs">Abstract Views</text>
<text x="330.5" y="422" textLength="98" lengthAdjust="spacingAndGlyphs">File Downloads</text>
</g>
<g class="t">
<text transform="translate(20.5,191.5) rotate(-90)" text-anchor="middle"># Abstract Views</text>
<text transform="translate(590.5,196.5) rotate(-90)" text-anchor="middle"># File Downloads</text>
</g>
</svg>
</body></html>
